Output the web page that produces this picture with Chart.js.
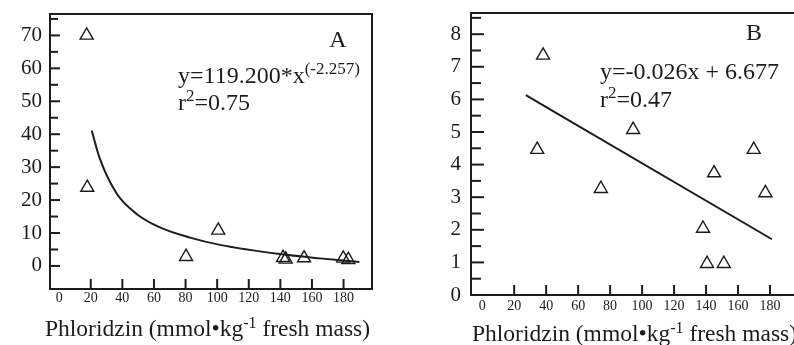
<!DOCTYPE html>
<html>
<head>
<meta charset="utf-8">
<script src="https://cdn.jsdelivr.net/npm/chart.js@4.4.1/dist/chart.umd.min.js"></script>
<style>
  html, body { margin: 0; padding: 0; background: #fff; overflow: hidden; }
  body { width: 794px; height: 345px; position: relative; }
  .panel { position: absolute; top: 0; height: 345px; }
  #boxA { left: 0; width: 400px; }
  #boxB { left: 400px; width: 420px; }
</style>
</head>
<body>
<div class="panel" id="boxA"><canvas id="chartA"></canvas></div>
<div class="panel" id="boxB"><canvas id="chartB"></canvas></div>
<script>
// tick labels
const X_TICKS   = [0, 20, 40, 60, 80, 100, 120, 140, 160, 180];
const A_Y_TICKS = [0, 10, 20, 30, 40, 50, 60, 70];
const B_Y_TICKS = [0, 1, 2, 3, 4, 5, 6, 7, 8];

const aPhlor  = [17.4, 17.8, 80.3, 100.7, 141.7, 143.4, 155, 179.8, 183];
const aValue  = [70.0, 23.8, 2.8, 10.8, 2.5, 2.0, 2.4, 2.3, 1.9];
const aCurveX = [20.6, 25.8, 36.4, 49, 63.8, 82.8, 101.8, 139.7, 165, 190];
const aCurveY = [41.1, 32.5, 22.0, 15.8, 11.7, 8.6, 6.4, 3.6, 2.3, 1.2];

// panel B: observed points + linear fit
const bPhlor = [38.1, 34.4, 74.2, 94.4, 138.1, 140.6, 151.1, 145, 169.8, 177.1];
const bValue = [7.35, 4.46, 3.26, 5.07, 2.04, 0.96, 0.96, 3.74, 4.46, 3.13];
const bLineX = [27.3, 181.2];
const bLineY = [6.13, 1.71];

const INK = '#1c1c1c';
const SERIF = "'Liberation Serif', 'DejaVu Serif', serif";

function pts(xs, ys) {
  return xs.map((x, i) => ({ x, y: ys[i] }));
}

// draws a run of text pieces, some raised as superscripts
function drawRich(ctx, parts, x, y, size) {
  ctx.textBaseline = 'alphabetic';
  ctx.textAlign = 'left';
  let cx = x;
  parts.forEach(p => {
    const sup = p[1];
    ctx.font = (sup ? Math.round(size * 0.7) : size) + 'px ' + SERIF;
    ctx.fillText(p[0], cx, sup ? y - size * 0.36 : y);
    cx += ctx.measureText(p[0]).width;
  });
}

const frame = {
  id: 'frame',
  afterDraw(chart, args, opts) {
    const { ctx, chartArea: a, scales } = chart;
    ctx.save();
    ctx.strokeStyle = INK;
    ctx.fillStyle = INK;
    ctx.lineWidth = 2;
    ctx.strokeRect(a.left, a.top, a.right - a.left, a.bottom - a.top);

    // inward ticks on the y axis, minor ones halfway
    const yt = opts.yTicks;
    const half = (yt[1] - yt[0]) / 2;
    const yMarks = [];
    yt.forEach(v => { yMarks.push([v, opts.majorLen]); yMarks.push([v + half, opts.minorLen]); });
    yMarks.forEach(([v, len]) => {
      const py = scales.y.getPixelForValue(v);
      if (py < a.top + 2 || py > a.bottom - 1) return;
      ctx.beginPath();
      ctx.moveTo(a.left, py);
      ctx.lineTo(a.left + len, py);
      ctx.stroke();
    });
    // inward ticks on the x axis
    X_TICKS.forEach(v => {
      if (v === 0) return;
      const px = scales.x.getPixelForValue(v);
      ctx.beginPath();
      ctx.moveTo(px, a.bottom);
      ctx.lineTo(px, a.bottom - opts.xLen);
      ctx.stroke();
    });

    // panel letter, equation and axis title
    ctx.font = '24px ' + SERIF;
    ctx.textAlign = 'center';
    ctx.textBaseline = 'middle';
    ctx.fillText(opts.letter[0], opts.letter[1], opts.letter[2]);
    opts.texts.forEach(t => drawRich(ctx, t.parts, t.x, t.y, t.size));
    ctx.restore();
  }
};

function makeChart(id, cfg) {
  return new Chart(document.getElementById(id), {
    type: 'scatter',
    data: {
      datasets: [
        {
          data: cfg.fit,
          showLine: true,
          borderColor: INK,
          borderWidth: 2,
          pointRadius: 0,
          cubicInterpolationMode: 'monotone',
        },
        {
          data: cfg.points,
          pointStyle: 'triangle',
          pointRadius: 7.5,
          pointBorderColor: INK,
          pointBackgroundColor: 'rgba(0,0,0,0)',
          pointBorderWidth: 1.4,
          showLine: false,
        }
      ]
    },
    options: {
      responsive: true,
      maintainAspectRatio: false,
      animation: false,
      layout: { padding: { top: cfg.top, right: cfg.right, left: 0, bottom: 0 } },
      plugins: {
        legend: { display: false },
        tooltip: { enabled: false },
        frame: cfg.frame,
      },
      scales: {
        x: {
          type: 'linear',
          min: cfg.xMin,
          max: cfg.xMax,
          grid: { display: false, drawTicks: false },
          border: { display: false },
          afterBuildTicks: s => { s.ticks = X_TICKS.map(v => ({ value: v })); },
          afterFit: s => { s.height = cfg.xHeight; s.paddingLeft = 0; s.paddingRight = 0; },
          ticks: {
            color: INK,
            padding: cfg.xPad,
            maxRotation: 0,
            autoSkip: false,
            font: { family: SERIF, size: 14 },
          },
        },
        y: {
          type: 'linear',
          min: cfg.yMin,
          max: cfg.yMax,
          grid: { display: false, drawTicks: false },
          border: { display: false },
          afterBuildTicks: s => { s.ticks = cfg.yTicks.map(v => ({ value: v })); },
          afterFit: s => { s.width = cfg.yWidth; s.paddingTop = 0; s.paddingBottom = 0; },
          ticks: {
            color: INK,
            padding: cfg.yPad,
            font: { family: SERIF, size: cfg.ySize },
          },
        }
      }
    },
    plugins: [frame]
  });
}

Chart.defaults.color = INK;

makeChart('chartA', {
  points: pts(aPhlor, aValue),
  fit: pts(aCurveX, aCurveY),
  xMin: -5.8, xMax: 198,
  yMin: -7, yMax: 76.5,
  yTicks: A_Y_TICKS,
  top: 14, right: 28,
  xHeight: 56, yWidth: 50,
  xPad: 1, yPad: 8, ySize: 21,
  frame: {
    yTicks: A_Y_TICKS, majorLen: 10, minorLen: 8, xLen: 10,
    letter: ['A', 338, 41],
    texts: [
      { parts: [['y=119.200*x'], ['(-2.257)', true]], x: 178, y: 83, size: 24 },
      { parts: [['r'], ['2', true], ['=0.75']], x: 178, y: 110, size: 24 },
      { parts: [['Phloridzin (mmol\u2022kg'], ['-1', true], [' fresh mass)']], x: 45, y: 336, size: 23.5 },
    ]
  }
});

makeChart('chartB', {
  points: pts(bPhlor, bValue),
  fit: pts(bLineX, bLineY),
  xMin: -7, xMax: 200,
  yMin: 0, yMax: 8.65,
  yTicks: B_Y_TICKS,
  top: 13, right: 18,
  xHeight: 50, yWidth: 71,
  xPad: 3, yPad: 10, ySize: 21,
  frame: {
    yTicks: B_Y_TICKS, majorLen: 13, minorLen: 10, xLen: 10,
    letter: ['B', 354, 34],
    texts: [
      { parts: [['y=-0.026x + 6.677']], x: 200, y: 79, size: 24 },
      { parts: [['r'], ['2', true], ['=0.47']], x: 200, y: 107, size: 24 },
      { parts: [['Phloridzin (mmol\u2022kg'], ['-1', true], [' fresh mass)']], x: 72, y: 341, size: 23.5 },
    ]
  }
});
</script>
</body>
</html>
